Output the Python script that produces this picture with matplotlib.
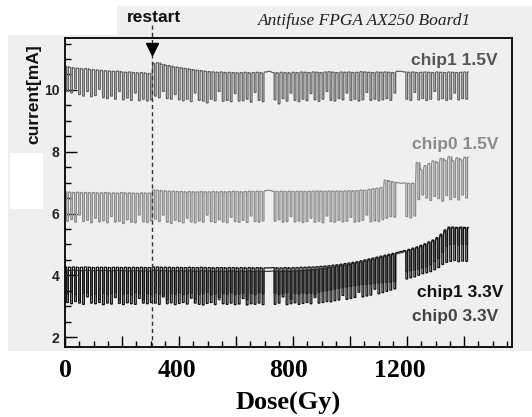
import numpy as np
import matplotlib
matplotlib.use("Agg")
import matplotlib.pyplot as plt
from matplotlib.patches import Rectangle

# ---------------- data (one value per measurement cycle) ----------------
period = 14.0          # Gy between cycles
nan = np.nan

chip1_15_hi = [10.76,10.73,10.71,10.70,10.68,10.69,10.66,10.65,10.64,10.63,
               10.62,10.61,10.60,10.61,10.58,10.57,10.58,10.56,10.55,10.56,
               10.54,10.53,10.86,10.88,10.83,10.80,10.78,10.75,10.73,10.71,
               10.69,10.67,10.65,10.63,10.62,10.60,10.59,10.58,10.57,10.58,
               10.56,10.57,10.56,10.55,10.56,10.57,10.55,10.56,10.57,10.55,
               10.58,10.60,10.56,10.55,10.57,10.56,10.55,10.57,10.56,10.58,
               10.57,10.56,10.58,10.57,10.56,10.58,10.59,10.57,10.56,10.58,
               10.57,10.58,10.56,10.57,10.59,10.58,10.57,10.56,10.58,10.57,
               10.58,10.57,10.56,10.60,10.60,10.58,10.57,10.58,10.56,10.57,
               10.58,10.57,10.56,10.58,10.57,10.56,10.58,10.57,10.56,10.57,
               10.58]
chip1_15_lo = [9.95,9.90,10.05,9.85,9.80,9.95,9.78,9.82,10.02,9.75,
               9.72,9.80,9.70,9.95,9.68,9.74,9.66,9.90,9.65,9.70,
               9.64,9.68,9.80,9.75,9.95,9.72,9.70,9.85,9.68,9.65,
               9.70,9.62,9.90,9.66,9.64,9.58,9.70,9.65,9.95,9.63,
               9.66,9.62,9.88,9.64,9.65,9.70,9.60,9.92,9.66,9.62,
               nan,nan,9.68,9.55,9.72,9.64,9.90,9.66,9.62,9.70,
               9.65,9.88,9.68,9.63,9.70,9.95,9.66,9.64,9.72,9.68,
               9.90,9.66,9.70,9.64,9.68,9.92,9.66,9.70,9.65,9.68,
               9.72,9.66,9.90,nan,nan,9.70,9.66,9.92,9.68,9.72,
               9.66,9.70,9.95,9.68,9.72,9.66,9.70,9.90,9.68,9.72,
               9.70]

chip0_15_hi = [6.70,6.69,6.68,6.69,6.67,6.68,6.67,6.68,6.66,6.67,
               6.68,6.66,6.67,6.66,6.68,6.66,6.67,6.66,6.65,6.67,
               6.66,6.66,6.76,6.75,6.74,6.73,6.72,6.72,6.71,6.71,
               6.70,6.71,6.70,6.70,6.71,6.70,6.70,6.71,6.70,6.71,
               6.70,6.71,6.72,6.71,6.70,6.71,6.72,6.71,6.72,6.71,
               6.74,6.75,6.72,6.71,6.72,6.71,6.72,6.71,6.72,6.72,
               6.71,6.72,6.72,6.73,6.72,6.72,6.73,6.72,6.73,6.72,
               6.73,6.74,6.73,6.74,6.76,6.75,6.78,6.80,6.82,6.84,
               7.08,7.05,7.02,7.00,6.98,6.99,6.97,6.98,7.65,7.42,
               7.55,7.62,7.70,7.66,7.78,7.72,7.84,7.70,7.80,7.74,
               7.82]
chip0_15_lo = [5.75,5.80,5.72,5.95,5.74,5.78,5.70,5.85,5.73,5.76,
               5.70,5.90,5.72,5.75,5.68,5.80,5.72,5.70,5.95,5.73,
               5.71,5.76,5.82,5.74,5.95,5.72,5.68,5.78,5.74,5.70,
               5.85,5.73,5.70,5.76,5.72,5.95,5.74,5.71,5.80,5.73,
               5.70,5.88,5.74,5.72,5.78,5.71,5.92,5.74,5.72,5.76,
               nan,nan,5.75,5.80,5.72,5.74,5.90,5.73,5.76,5.71,
               5.74,5.85,5.72,5.75,5.70,5.92,5.74,5.72,5.78,5.73,
               5.75,5.88,5.72,5.74,5.78,5.95,5.73,5.76,5.74,5.80,
               5.85,5.90,5.88,nan,nan,5.90,5.86,5.92,6.45,6.60,
               6.50,6.42,6.55,6.48,6.40,6.58,6.45,6.52,6.44,6.60,
               6.50]

chip1_33_hi = [4.27,4.26,4.27,4.26,4.26,4.27,4.26,4.25,4.26,4.26,
               4.26,4.25,4.26,4.26,4.25,4.26,4.25,4.26,4.25,4.26,
               4.25,4.25,4.27,4.27,4.26,4.26,4.26,4.25,4.26,4.25,
               4.25,4.26,4.25,4.25,4.26,4.25,4.25,4.24,4.25,4.25,
               4.24,4.25,4.25,4.24,4.25,4.24,4.25,4.24,4.25,4.24,
               4.24,4.24,4.25,4.24,4.24,4.25,4.24,4.25,4.25,4.26,
               4.26,4.27,4.27,4.28,4.29,4.30,4.31,4.33,4.34,4.36,
               4.38,4.40,4.42,4.44,4.47,4.50,4.53,4.56,4.59,4.62,
               4.65,4.68,4.71,4.74,4.77,4.80,4.84,4.88,4.92,4.97,
               5.02,5.08,5.14,5.22,5.33,5.47,5.56,5.56,5.55,5.56,
               5.55]
chip1_33_lo = [3.12,3.08,3.15,3.10,3.06,3.30,3.10,3.08,3.12,3.05,
               3.10,3.07,3.28,3.09,3.05,3.11,3.08,3.06,3.25,3.10,
               3.08,3.12,3.10,3.06,3.30,3.08,3.11,3.05,3.09,3.12,
               3.07,3.26,3.10,3.06,3.04,3.09,3.12,3.05,3.28,3.08,
               3.06,3.10,3.05,3.07,3.25,3.04,3.08,3.06,3.10,3.05,
               nan,nan,3.06,3.10,3.30,3.05,3.08,3.11,3.06,3.09,
               3.12,3.08,3.28,3.10,3.12,3.15,3.14,3.18,3.20,3.35,
               3.22,3.25,3.28,3.45,3.30,3.33,3.36,3.55,3.40,3.44,
               3.48,3.52,3.56,nan,nan,3.88,3.92,3.95,4.00,4.05,
               4.08,4.12,4.18,4.25,4.35,4.42,4.45,4.48,4.44,4.46,
               4.45]

chip0_33_hi = [4.17,4.16,4.17,4.16,4.15,4.16,4.16,4.15,4.16,4.15,
               4.16,4.15,4.15,4.16,4.15,4.15,4.14,4.15,4.15,4.14,
               4.15,4.14,4.16,4.16,4.15,4.15,4.14,4.15,4.14,4.15,
               4.14,4.15,4.14,4.14,4.15,4.14,4.14,4.13,4.14,4.14,
               4.13,4.14,4.14,4.13,4.14,4.13,4.14,4.13,4.14,4.13,
               4.13,4.13,4.14,4.13,4.13,4.14,4.13,4.14,4.14,4.15,
               4.16,4.17,4.18,4.19,4.21,4.23,4.25,4.27,4.29,4.31,
               4.33,4.35,4.38,4.40,4.43,4.46,4.49,4.52,4.55,4.58,
               4.61,4.64,4.67,4.70,4.73,4.77,4.81,4.85,4.89,4.94,
               4.99,5.05,5.11,5.18,5.28,5.42,5.52,5.53,5.52,5.53,
               5.52]
chip0_33_lo = [3.40,3.45,3.38,3.20,3.42,3.44,3.36,3.40,3.22,3.43,
               3.38,3.41,3.45,3.20,3.39,3.42,3.37,3.44,3.40,3.22,
               3.41,3.38,3.43,3.40,3.36,3.21,3.42,3.39,3.44,3.38,
               3.40,3.43,3.22,3.38,3.41,3.45,3.37,3.40,3.21,3.42,
               3.39,3.44,3.38,3.40,3.42,3.22,3.41,3.37,3.43,3.40,
               nan,nan,3.42,3.38,3.40,3.44,3.23,3.41,3.39,3.43,
               3.40,3.42,3.38,3.45,3.48,3.50,3.52,3.55,3.58,3.60,
               3.62,3.64,3.66,3.68,3.70,3.71,3.72,3.74,3.75,3.76,
               3.77,3.78,3.80,nan,nan,4.12,4.15,4.18,4.20,4.24,
               4.28,4.35,4.45,4.55,4.75,4.95,5.00,5.02,4.98,5.01,
               5.00]

restart_dose = 305
series_labels = ["chip1 1.5V", "chip0 1.5V", "chip1 3.3V", "chip0 3.3V"]
xtick_labels = ["0", "400", "800", "1200"]
xtick_label_pos = [0, 392, 784, 1176]
ytick_vals = [2, 4, 6, 8, 10]

# ---------------- figure ----------------
W, H = 532, 417
fig = plt.figure(figsize=(W / 100, H / 100), dpi=100)
fig.patch.set_facecolor("white")
bg = "#efefef"

def px_rect(x0, y0, x1, y1, color, z=-10):
    r = Rectangle((x0 / W, 1 - y1 / H), (x1 - x0) / W, (y1 - y0) / H,
                  transform=fig.transFigure, facecolor=color, edgecolor="none", zorder=z)
    fig.patches.append(r)
    return r

px_rect(8, 35, 532, 351, bg)
px_rect(117, 6, 532, 36, bg)

ax = fig.add_axes([65 / W, 1 - 347 / H, (512 - 65) / W, (347 - 38) / H])
ax.set_facecolor(bg)
ax.set_xlim(0, 1568)
ax.set_ylim(1.68, 11.68)

def wave(hi, lo, a=0.42, b=0.85):
    hi = np.asarray(hi, float); lo = np.asarray(lo, float)
    dose = np.arange(len(hi)) * period
    xs, ys = [], []
    for d, h, l in zip(dose, hi, lo):
        xs += [d, d + a * period]; ys += [h, h]
        if not np.isnan(l):
            xs += [d + a * period, d + b * period, d + b * period]
            ys += [l, l, h]
    xs.append(dose[-1] + period); ys.append(hi[-1])
    return xs, ys

for hi, lo, col in [(chip1_15_hi, chip1_15_lo, "#626262"),
                    (chip0_15_hi, chip0_15_lo, "#8a8a8a"),
                    (chip0_33_hi, chip0_33_lo, "#3c3c3c"),
                    (chip1_33_hi, chip1_33_lo, "#121212")]:
    xs, ys = wave(hi, lo)
    ax.plot(xs, ys, color=col, lw=0.9, solid_joinstyle="miter")

# restart marker
ax.plot([restart_dose, restart_dose], [1.68, 12.1], color="#333333", lw=1.0,
        dashes=(3, 2.2), clip_on=False, zorder=5)
ax.plot([restart_dose], [11.33], marker="v", ms=9, color="black", clip_on=False, zorder=6)

# ticks
ax.set_yticks(ytick_vals)
ax.set_yticks(np.arange(2, 11.6, 0.5), minor=True)
ax.set_xticks(np.arange(0, 1568, 200))
ax.set_xticks(np.arange(0, 1568, 50), minor=True)
ax.set_xticklabels([])
ax.tick_params(axis="y", which="major", direction="in", length=8.5, width=1.0,
               labelsize=10, pad=4, colors="black")
ax.tick_params(axis="y", which="minor", direction="in", length=4.3, width=1.0)
ax.tick_params(axis="x", which="major", direction="in", length=8, width=1.0)
ax.tick_params(axis="x", which="minor", direction="in", length=4.3, width=1.0)
for lab in ax.get_yticklabels():
    lab.set_fontweight("bold"); lab.set_family("Liberation Sans"); lab.set_color("#222222")
for s in ax.spines.values():
    s.set_linewidth(1.3)

# series labels
sans = "Liberation Sans"
def lab_px(xr, y, text, color):
    fig.text(xr / W, 1 - y / H, text, ha="right", va="center", fontsize=12.5,
             fontweight="bold", family=sans, color=color)
lab_px(498, 60, series_labels[0], "#555555")
lab_px(498, 145, series_labels[1], "#8a8a8a")
lab_px(503, 292, series_labels[2], "#111111")
lab_px(498, 317, series_labels[3], "#444444")

# top texts
fig.text(154 / W, 1 - 18 / H, "restart", ha="center", va="center", fontsize=12.5,
         fontweight="bold", family=sans, color="#111111")
fig.text(365 / W, 1 - 21 / H, "Antifuse FPGA AX250 Board1", ha="center", va="center",
         fontsize=12.5, fontstyle="italic", family="Liberation Serif", color="#222222")

# y label
fig.text(34 / W, 1 - 94 / H, "current[mA]", rotation=90, ha="center", va="center",
         fontsize=12.5, fontweight="bold", family=sans, color="#111111")
px_rect(10, 153, 43, 209, "white", z=10)

# x tick labels and x label (serif, below panel)
for pos, t in zip(xtick_label_pos, xtick_labels):
    ax.text(pos, -0.075, t, transform=ax.get_xaxis_transform(), ha="center", va="center",
            fontsize=18.5, fontweight="bold", family="Liberation Serif", color="black",
            clip_on=False)
fig.text(288 / W, 1 - 403 / H, "Dose(Gy)", ha="center", va="center", fontsize=19,
         fontweight="bold", family="Liberation Serif", color="black")

fig.savefig("out.png", dpi=100, facecolor="white")
